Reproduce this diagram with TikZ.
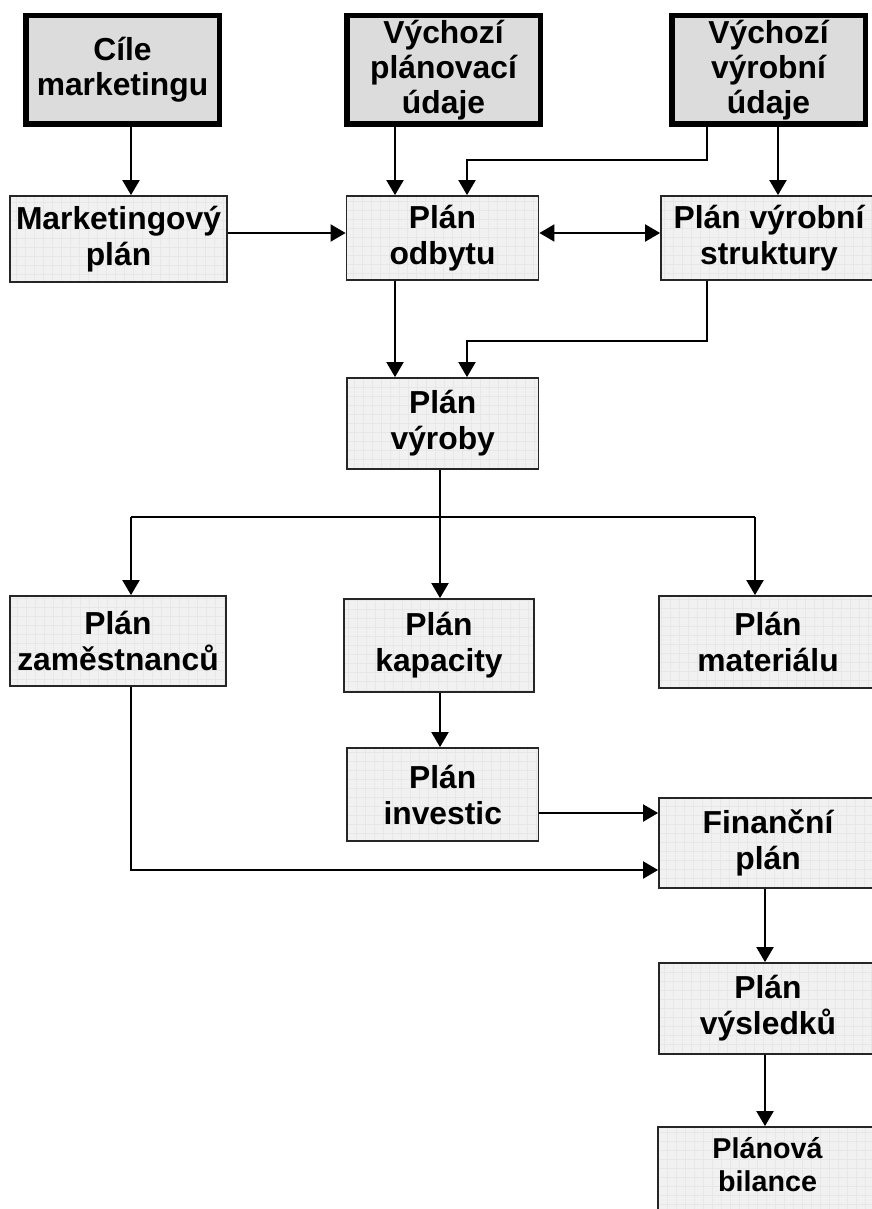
\documentclass[tikz,border=0pt]{standalone}
\usepackage{fontspec}
\setmainfont{Liberation Sans}
\usetikzlibrary{arrows.meta}
\definecolor{boxfill}{HTML}{F1F1F1}
\definecolor{boxgrid}{HTML}{E7E7E7}
\definecolor{srcfill}{HTML}{DCDCDC}
\begin{document}
\begin{tikzpicture}[x=1pt,y=-1pt,
  txt/.style={font=\bfseries\fontsize{31.8}{36}\selectfont, align=center, inner sep=0pt},
  plan/.style={txt, draw=black!85, line width=1.8pt, fill=boxfill,
    path picture={\draw[boxgrid, line width=0.5pt]
      (path picture bounding box.south west) grid[step=9pt]
      (path picture bounding box.north east);}},
  source/.style={txt, draw=black, line width=5.5pt, fill=srcfill,
    minimum width=193.5pt, minimum height=108.5pt,
    font=\bfseries\fontsize{31.8}{35}\selectfont},
  tip/.tip={Triangle[length=15pt,width=17pt]},
  arr/.style={line width=2pt, -tip},
  biarr/.style={line width=2pt, tip-tip},
  wire/.style={line width=2pt}]
\useasboundingbox (0,0) rectangle (871,1209);

% input data
\node[source] (cile) at (122.5,70) {Cíle\\marketingu};
\node[source] (vpu)  at (443.5,70) {Výchozí\\plánovací\\údaje};
\node[source] (vvu)  at (768.5,70) {Výchozí\\výrobní\\údaje};

% partial plans
\node[plan, minimum width=217pt, minimum height=86pt] (mkt) at (118.5,239) {Marketingový\\plán};
\node[plan, minimum width=192pt, minimum height=84pt] (odb) at (442.5,238) {Plán\\odbytu};
\node[plan, minimum width=216pt, minimum height=84pt] (str) at (769,238) {Plán výrobní\\struktury};
\node[plan, minimum width=191.5pt, minimum height=91pt] (vyr) at (442.75,423.5) {Plán\\výroby};
\node[plan, minimum width=216pt, minimum height=90pt] (zam) at (118,641) {Plán\\zaměstnanců};
\node[plan, minimum width=190pt, minimum height=93pt] (kap) at (439,645.5) {Plán\\kapacity};
\node[plan, minimum width=218pt, minimum height=92pt] (mat) at (768,642) {Plán\\materiálu};
\node[plan, minimum width=191.5pt, minimum height=93pt] (inv) at (442.75,794.5) {Plán\\investic};
\node[plan, minimum width=218pt, minimum height=90pt] (fin) at (768,843) {Finanční\\plán};
\node[plan, minimum width=218pt, minimum height=91pt] (vys) at (768,1008.5) {Plán\\výsledků};
\node[plan, minimum width=219pt, minimum height=106pt, font=\bfseries\fontsize{28.7}{33}\selectfont]
  (bil) at (767.5,1180) {Plánová\\bilance\\[-2pt]\mbox{}};

% routing columns and rows
\coordinate (c1) at (131,0);
\coordinate (c2a) at (395,0);
\coordinate (c2b) at (467,0);
\coordinate (c2c) at (440,0);
\coordinate (c3a) at (707,0);
\coordinate (c3b) at (778,0);
\coordinate (c3c) at (765,0);
\coordinate (c4) at (755,0);
\coordinate (r0) at (0,160);
\coordinate (r1) at (0,233);
\coordinate (r2) at (0,341);
\coordinate (r3) at (0,517);
\coordinate (r4) at (0,813);
\coordinate (r5) at (0,870);

% connectors
\draw[arr] (cile.south -| c1) -- (mkt.north -| c1);
\draw[arr] (vpu.south -| c2a) -- (odb.north -| c2a);
\draw[arr] (vvu.south -| c3a) -- (c3a |- r0) -- (c2b |- r0) -- (odb.north -| c2b);
\draw[arr] (vvu.south -| c3b) -- (str.north -| c3b);
\draw[arr] (mkt.east |- r1) -- (odb.west |- r1);
\draw[biarr] (odb.east |- r1) -- (str.west |- r1);
\draw[arr] (odb.south -| c2a) -- (vyr.north -| c2a);
\draw[arr] (str.south -| c3a) -- (c3a |- r2) -- (c2b |- r2) -- (vyr.north -| c2b);
\draw[arr] (vyr.south -| c2c) -- (kap.north -| c2c);
\draw[wire] (c1 |- r3) -- (c4 |- r3);
\draw[arr] (c1 |- r3) -- (zam.north -| c1);
\draw[arr] (c4 |- r3) -- (mat.north -| c4);
\draw[arr] (kap.south -| c2c) -- (inv.north -| c2c);
\draw[arr] (inv.east |- r4) -- (fin.west |- r4);
\draw[arr] (zam.south -| c1) -- (c1 |- r5) -- (fin.west |- r5);
\draw[arr] (fin.south -| c3c) -- (vys.north -| c3c);
\draw[arr] (vys.south -| c3c) -- (bil.north -| c3c);
\end{tikzpicture}
\end{document}
